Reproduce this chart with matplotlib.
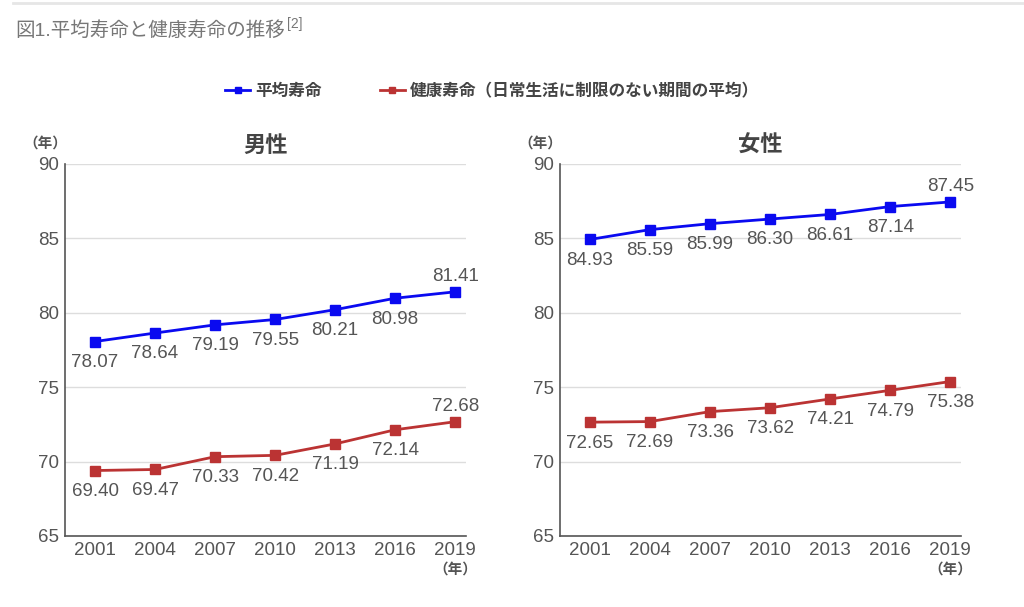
import matplotlib.pyplot as plt

plt.rcParams['font.family'] = ['Liberation Sans', 'Noto Sans CJK JP', 'DejaVu Sans']

years = ["2001", "2004", "2007", "2010", "2013", "2016", "2019"]
male_life = [78.07, 78.64, 79.19, 79.55, 80.21, 80.98, 81.41]
male_health = [69.40, 69.47, 70.33, 70.42, 71.19, 72.14, 72.68]
female_life = [84.93, 85.59, 85.99, 86.30, 86.61, 87.14, 87.45]
female_health = [72.65, 72.69, 73.36, 73.62, 74.21, 74.79, 75.38]

# label placement: True = above the point
male_life_up = [False] * 6 + [True]
male_health_up = [False] * 6 + [True]
female_life_up = [False] * 6 + [True]
female_health_up = [False] * 7

BLUE = "#0a0af0"
RED = "#bb3333"
TXT = "#555555"

fig = plt.figure(figsize=(10.24, 6.07), dpi=100)
fig.patch.set_facecolor("white")

# header
fig.add_artist(plt.Line2D([13 / 1024, 1.0], [1 - 3 / 607] * 2, color="#e6e6e6", lw=2))
fig.text(15 / 1024, 1 - 31 / 607, "図1.平均寿命と健康寿命の推移", fontsize=14, color="#777777", va="center")
fig.text(287 / 1024, 1 - 24 / 607, "[2]", fontsize=10, color="#777777", va="center")


def panel(rect, title, life, health, life_up, health_up):
    ax = fig.add_axes(rect)
    x = list(range(len(years)))
    ax.plot(x, life, color=BLUE, marker="s", markersize=6.5, lw=2)
    ax.plot(x, health, color=RED, marker="s", markersize=6.5, lw=2)
    for vals, ups in ((life, life_up), (health, health_up)):
        for i, (v, up) in enumerate(zip(vals, ups)):
            off = 11 if up else -15
            ax.annotate(f"{v:.2f}", (i, v), xytext=(0, off), textcoords="offset points",
                        ha="center", va="center", fontsize=13.5, color=TXT)
    ax.set_xlim(-0.5, 6.18)
    ax.set_ylim(65, 90)
    ax.set_yticks([65, 70, 75, 80, 85, 90])
    ax.set_xticks(x)
    ax.set_xticklabels(years)
    ax.tick_params(length=0, labelsize=13.5, colors=TXT)
    ax.tick_params(axis="y", pad=4)
    ax.tick_params(axis="x", pad=4)
    ax.grid(axis="y", color="#dddddd", lw=1)
    ax.set_axisbelow(True)
    for s in ("top", "right"):
        ax.spines[s].set_visible(False)
    for s in ("left", "bottom"):
        ax.spines[s].set_color("#555555")
        ax.spines[s].set_linewidth(1.2)
    ax.set_title(title, fontsize=16, fontweight="bold", color="#444444", pad=9)
    ax.text(-0.05, 1.035, "（年）", transform=ax.transAxes, fontsize=10.5, color=TXT,
            ha="center", va="bottom", fontweight="bold")
    ax.annotate("（年）", (6, 65), xytext=(0, -19), textcoords="offset points", fontsize=10.5,
                color=TXT, ha="center", va="top", fontweight="bold")
    return ax


ax1 = panel([65 / 1024, 1 - 536 / 607, 401 / 1024, 372 / 607], "男性",
            male_life, male_health, male_life_up, male_health_up)
ax2 = panel([560 / 1024, 1 - 536 / 607, 401 / 1024, 372 / 607], "女性",
            female_life, female_health, female_life_up, female_health_up)

# legend
h1, = ax1.plot([], [], color=BLUE, marker="s", markersize=5, lw=2)
h2, = ax1.plot([], [], color=RED, marker="s", markersize=5, lw=2)
leg = fig.legend([h1, h2], ["平均寿命", "健康寿命（日常生活に制限のない期間の平均）"],
                 loc="center", bbox_to_anchor=(492 / 1024, 1 - 91 / 607), ncol=2, frameon=False,
                 handlelength=1.5, columnspacing=3.5, handletextpad=0.3,
                 prop={"weight": "bold", "size": 12})
for t in leg.get_texts():
    t.set_color("#444444")

fig.savefig("out.png", dpi=100)
